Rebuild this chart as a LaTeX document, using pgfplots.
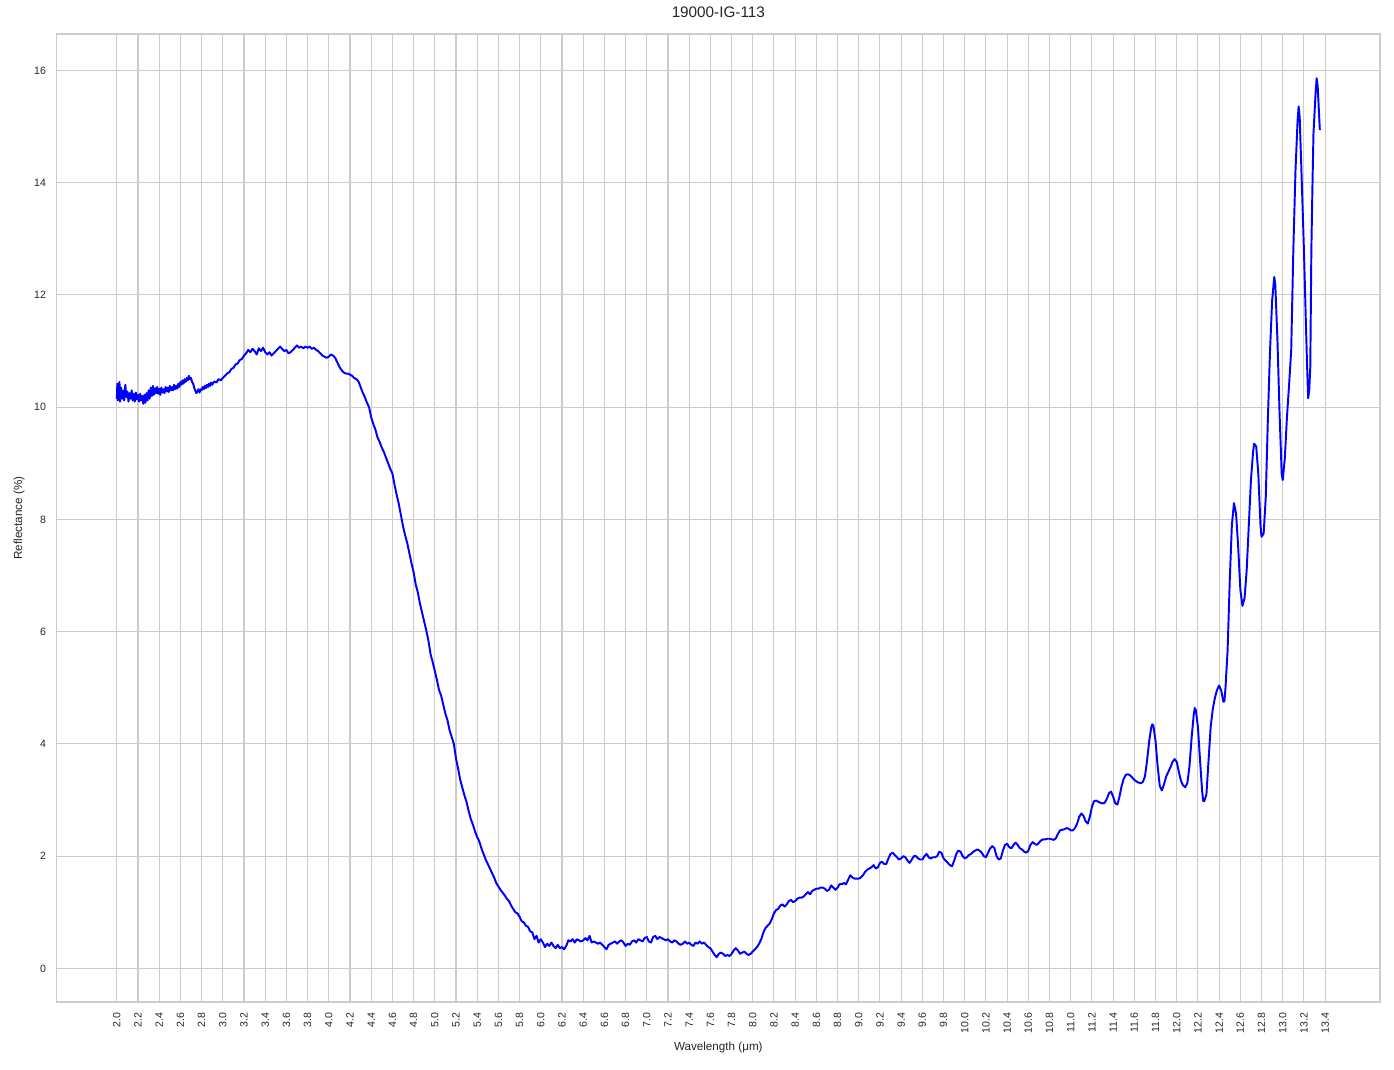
\documentclass[border=0pt]{standalone}
\usepackage{pgfplots}
\pgfplotsset{compat=1.18}
\usepackage{fontspec}
\setmainfont{Liberation Sans}
\usetikzlibrary{calc}

\definecolor{gridgray}{HTML}{CCCCCC}

\pgfplotstableread{
x y
2.000 10.15
2.005 10.42
2.010 10.12
2.015 10.38
2.020 10.20
2.025 10.45
2.030 10.10
2.040 10.35
2.050 10.15
2.060 10.30
2.070 10.12
2.080 10.40
2.090 10.18
2.100 10.28
2.110 10.10
2.120 10.25
2.130 10.15
2.140 10.30
2.150 10.12
2.160 10.24
2.170 10.10
2.180 10.26
2.190 10.14
2.200 10.22
2.210 10.10
2.220 10.24
2.230 10.12
2.240 10.20
2.250 10.06
2.260 10.22
2.270 10.08
2.280 10.25
2.290 10.12
2.300 10.30
2.310 10.15
2.320 10.35
2.330 10.20
2.340 10.38
2.350 10.22
2.360 10.34
2.370 10.25
2.380 10.36
2.390 10.24
2.400 10.33
2.410 10.22
2.420 10.35
2.430 10.26
2.440 10.32
2.450 10.25
2.460 10.36
2.470 10.28
2.480 10.35
2.490 10.27
2.500 10.38
2.510 10.30
2.520 10.36
2.530 10.30
2.540 10.40
2.550 10.32
2.560 10.38
2.570 10.33
2.580 10.42
2.590 10.36
2.600 10.45
2.610 10.40
2.620 10.48
2.630 10.42
2.640 10.50
2.650 10.45
2.660 10.52
2.670 10.48
2.680 10.56
2.690 10.50
2.700 10.52
2.710 10.45
2.720 10.42
2.730 10.35
2.740 10.30
2.750 10.25
2.760 10.28
2.770 10.32
2.780 10.26
2.790 10.32
2.800 10.30
2.810 10.36
2.820 10.32
2.830 10.38
2.840 10.34
2.850 10.40
2.860 10.36
2.870 10.42
2.880 10.38
2.890 10.44
2.900 10.40
2.920 10.46
2.940 10.44
2.960 10.50
2.980 10.48
3.000 10.52
3.020 10.56
3.040 10.60
3.060 10.62
3.080 10.68
3.100 10.70
3.120 10.76
3.140 10.78
3.160 10.84
3.180 10.86
3.200 10.92
3.220 10.96
3.240 11.02
3.260 10.98
3.280 11.04
3.300 11.00
3.320 10.94
3.340 11.05
3.360 11.00
3.380 11.06
3.400 10.98
3.420 10.94
3.440 10.98
3.460 10.92
3.480 10.96
3.500 11.00
3.520 11.04
3.540 11.08
3.560 11.04
3.580 11.00
3.600 11.02
3.620 10.96
3.640 10.98
3.660 11.02
3.680 11.06
3.700 11.10
3.720 11.06
3.740 11.08
3.760 11.05
3.780 11.08
3.800 11.06
3.820 11.08
3.840 11.04
3.860 11.06
3.880 11.02
3.900 11.00
3.920 10.96
3.940 10.92
3.960 10.90
3.980 10.88
4.000 10.90
4.020 10.94
4.040 10.92
4.060 10.88
4.080 10.80
4.100 10.72
4.120 10.66
4.140 10.62
4.160 10.60
4.180 10.60
4.200 10.58
4.220 10.56
4.240 10.52
4.260 10.50
4.280 10.46
4.300 10.36
4.320 10.26
4.340 10.18
4.360 10.08
4.380 10.00
4.400 9.82
4.420 9.70
4.440 9.60
4.460 9.46
4.480 9.38
4.500 9.28
4.520 9.20
4.540 9.10
4.560 9.00
4.580 8.90
4.600 8.82
4.620 8.62
4.640 8.44
4.660 8.28
4.680 8.08
4.700 7.88
4.720 7.72
4.740 7.58
4.760 7.40
4.780 7.22
4.800 7.06
4.820 6.84
4.840 6.70
4.860 6.50
4.880 6.34
4.900 6.18
4.920 6.02
4.940 5.84
4.960 5.60
4.980 5.46
5.000 5.30
5.020 5.14
5.040 4.96
5.060 4.86
5.080 4.70
5.100 4.54
5.120 4.42
5.140 4.24
5.160 4.12
5.180 4.00
5.200 3.74
5.220 3.56
5.240 3.36
5.260 3.22
5.280 3.08
5.300 2.96
5.320 2.80
5.340 2.66
5.360 2.56
5.380 2.44
5.400 2.34
5.420 2.26
5.440 2.14
5.460 2.04
5.480 1.94
5.500 1.86
5.520 1.78
5.540 1.70
5.560 1.62
5.580 1.52
5.600 1.46
5.620 1.40
5.640 1.35
5.660 1.30
5.680 1.24
5.700 1.20
5.720 1.12
5.740 1.06
5.760 1.00
5.780 0.98
5.800 0.92
5.820 0.84
5.840 0.82
5.860 0.76
5.880 0.74
5.900 0.66
5.920 0.64
5.940 0.52
5.960 0.58
5.980 0.46
6.000 0.52
6.020 0.46
6.040 0.38
6.060 0.44
6.080 0.40
6.100 0.46
6.120 0.40
6.140 0.36
6.160 0.42
6.180 0.36
6.200 0.38
6.220 0.34
6.240 0.40
6.260 0.50
6.280 0.48
6.300 0.52
6.320 0.46
6.340 0.52
6.360 0.50
6.380 0.48
6.400 0.50
6.420 0.54
6.440 0.50
6.460 0.58
6.480 0.46
6.500 0.48
6.520 0.46
6.540 0.44
6.560 0.46
6.580 0.42
6.600 0.38
6.620 0.34
6.640 0.42
6.660 0.44
6.680 0.46
6.700 0.48
6.720 0.44
6.740 0.48
6.760 0.50
6.780 0.46
6.800 0.40
6.820 0.44
6.840 0.42
6.860 0.48
6.880 0.50
6.900 0.46
6.920 0.52
6.940 0.50
6.960 0.48
6.980 0.54
7.000 0.56
7.020 0.48
7.040 0.46
7.060 0.56
7.080 0.58
7.100 0.52
7.120 0.56
7.140 0.54
7.160 0.52
7.180 0.50
7.200 0.52
7.220 0.48
7.240 0.46
7.260 0.50
7.280 0.48
7.300 0.44
7.320 0.42
7.340 0.44
7.360 0.48
7.380 0.44
7.400 0.46
7.420 0.42
7.440 0.40
7.460 0.46
7.480 0.44
7.500 0.48
7.520 0.44
7.540 0.46
7.560 0.42
7.580 0.38
7.600 0.36
7.620 0.30
7.640 0.24
7.660 0.20
7.680 0.26
7.700 0.28
7.720 0.26
7.740 0.22
7.760 0.24
7.780 0.22
7.800 0.26
7.820 0.32
7.840 0.36
7.860 0.32
7.880 0.26
7.900 0.28
7.920 0.30
7.940 0.26
7.960 0.24
7.980 0.26
8.000 0.30
8.020 0.34
8.040 0.38
8.060 0.44
8.080 0.52
8.100 0.64
8.120 0.72
8.140 0.76
8.160 0.80
8.180 0.88
8.200 0.98
8.220 1.04
8.240 1.06
8.260 1.12
8.280 1.14
8.300 1.10
8.320 1.14
8.340 1.20
8.360 1.22
8.380 1.18
8.400 1.20
8.420 1.24
8.440 1.26
8.460 1.26
8.480 1.28
8.500 1.32
8.520 1.36
8.540 1.32
8.560 1.38
8.580 1.40
8.600 1.42
8.620 1.42
8.640 1.44
8.660 1.44
8.680 1.42
8.700 1.38
8.720 1.40
8.740 1.48
8.760 1.44
8.780 1.40
8.800 1.44
8.820 1.50
8.840 1.50
8.860 1.52
8.880 1.50
8.900 1.58
8.920 1.66
8.940 1.62
8.960 1.60
8.980 1.60
9.000 1.60
9.020 1.62
9.040 1.66
9.060 1.72
9.080 1.76
9.100 1.78
9.120 1.80
9.140 1.84
9.160 1.78
9.180 1.80
9.200 1.88
9.220 1.90
9.240 1.86
9.260 1.86
9.280 1.96
9.300 2.04
9.320 2.06
9.340 2.02
9.360 1.98
9.380 1.94
9.400 1.96
9.420 2.00
9.440 1.98
9.460 1.92
9.480 1.88
9.500 1.94
9.520 2.00
9.540 2.00
9.560 1.96
9.580 1.94
9.600 1.94
9.620 2.00
9.640 2.04
9.660 1.98
9.680 1.96
9.700 1.98
9.720 1.98
9.740 2.00
9.760 2.08
9.780 2.06
9.800 1.96
9.820 1.92
9.840 1.88
9.860 1.84
9.880 1.82
9.900 1.92
9.920 2.04
9.940 2.10
9.960 2.08
9.980 2.00
10.000 1.96
10.020 1.98
10.040 2.02
10.060 2.04
10.080 2.08
10.100 2.10
10.120 2.12
10.140 2.10
10.160 2.06
10.180 2.00
10.200 1.98
10.220 2.06
10.240 2.14
10.260 2.18
10.280 2.14
10.300 2.00
10.320 1.94
10.340 1.96
10.360 2.10
10.380 2.20
10.400 2.22
10.420 2.16
10.440 2.14
10.460 2.20
10.480 2.24
10.500 2.20
10.520 2.14
10.540 2.12
10.560 2.08
10.580 2.06
10.600 2.10
10.620 2.20
10.640 2.25
10.660 2.22
10.680 2.20
10.700 2.24
10.720 2.28
10.740 2.30
10.760 2.30
10.780 2.31
10.800 2.31
10.820 2.30
10.840 2.29
10.860 2.32
10.880 2.40
10.900 2.46
10.920 2.47
10.940 2.48
10.960 2.50
10.980 2.49
11.000 2.46
11.020 2.46
11.040 2.50
11.060 2.58
11.080 2.70
11.100 2.76
11.120 2.72
11.140 2.62
11.160 2.58
11.180 2.70
11.200 2.88
11.220 2.98
11.240 2.99
11.260 2.97
11.280 2.95
11.300 2.94
11.320 2.95
11.340 3.02
11.360 3.12
11.380 3.15
11.400 3.06
11.420 2.94
11.440 2.92
11.460 3.06
11.480 3.25
11.500 3.38
11.520 3.45
11.540 3.46
11.560 3.44
11.580 3.40
11.600 3.36
11.620 3.33
11.640 3.31
11.660 3.30
11.680 3.32
11.700 3.42
11.720 3.70
11.740 4.05
11.760 4.30
11.770 4.35
11.780 4.32
11.800 4.05
11.820 3.60
11.840 3.25
11.860 3.17
11.880 3.28
11.900 3.42
11.920 3.50
11.940 3.58
11.960 3.68
11.980 3.73
12.000 3.68
12.020 3.50
12.040 3.34
12.060 3.26
12.080 3.23
12.100 3.30
12.120 3.60
12.140 4.10
12.160 4.52
12.170 4.64
12.180 4.60
12.200 4.30
12.220 3.70
12.240 3.15
12.250 2.98
12.260 2.98
12.280 3.10
12.300 3.70
12.320 4.30
12.340 4.62
12.360 4.82
12.380 4.96
12.400 5.04
12.420 4.95
12.440 4.75
12.450 4.76
12.460 5.00
12.480 5.67
12.500 6.90
12.520 7.90
12.540 8.29
12.560 8.10
12.580 7.50
12.600 6.75
12.620 6.46
12.640 6.60
12.660 7.10
12.680 7.90
12.700 8.70
12.720 9.20
12.730 9.35
12.750 9.30
12.770 8.80
12.790 7.90
12.800 7.69
12.820 7.75
12.840 8.40
12.860 9.80
12.880 11.00
12.900 11.90
12.920 12.32
12.930 12.18
12.950 11.20
12.970 9.90
12.990 8.82
13.000 8.70
13.020 9.10
13.040 9.83
13.060 10.40
13.080 11.02
13.100 12.80
13.120 14.20
13.140 15.10
13.150 15.36
13.160 15.17
13.180 14.00
13.200 12.80
13.220 11.40
13.230 10.72
13.240 10.16
13.250 10.30
13.260 10.72
13.270 12.80
13.280 13.90
13.290 14.88
13.310 15.60
13.320 15.86
13.330 15.71
13.350 14.94
}\spectrum

\begin{document}
\begin{tikzpicture}
\begin{axis}[
    name=main,
    at={(0,0)}, anchor=south west,
    scale only axis,
    width=952.8pt, height=697pt,
    xmin=1.4325, xmax=13.9175,
    ymin=-0.60, ymax=16.65,
    xtick={2.0,2.2,...,13.45},
    ytick={0,2,...,16},
    grid=major,
    major grid style={gridgray, line width=0.75pt},
    axis line style={gridgray, line width=0.9pt},
    major tick length=0pt,
    tick style={draw=none},
    /pgf/number format/assume math mode=true,
    xticklabel={\pgfmathprintnumber[fixed, fixed zerofill, precision=1]{\tick}},
    yticklabel={\pgfmathprintnumber[fixed, precision=0]{\tick}},
    xticklabel shift=7.5pt,
    yticklabel shift=7.5pt,
    xticklabel style={rotate=90, anchor=east, inner sep=0pt, font=\fontsize{7.6}{9}\selectfont, text=black!85},
    yticklabel style={anchor=east, inner sep=0pt, font=\fontsize{7.6}{9}\selectfont, text=black!85},
    title={19000-IG-113},
    title style={at={(0.5,1)}, anchor=base, yshift=6pt, inner sep=0pt, font=\fontsize{11}{13}\selectfont, text=black!85},
    xlabel={Wavelength (μm)},
    ylabel={Reflectance (\%)},
    xlabel style={at={(0.5,0)}, anchor=center, yshift=-33pt, inner sep=0pt, font=\fontsize{8.4}{10}\selectfont, text=black!85},
    ylabel style={at={(0,0.5)}, anchor=center, yshift=27pt, inner sep=0pt, font=\fontsize{8.4}{10}\selectfont, text=black!85},
]
\addplot[color=blue, line width=1.4pt, line join=round] table[x=x, y=y] {\spectrum};
\end{axis}
\pgfresetboundingbox
\useasboundingbox ($(main.south west)+(-40.8pt,-48.2pt)$) rectangle ($(main.north east)+(10.1pt,24.5pt)$);
\end{tikzpicture}
\end{document}
